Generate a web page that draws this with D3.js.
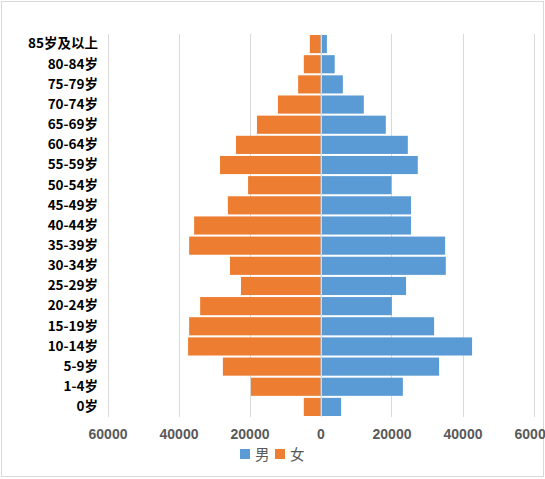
<!DOCTYPE html>
<html>
<head>
<meta charset="utf-8">
<script src="https://cdn.jsdelivr.net/npm/d3@7"></script>
<style>
  body { margin: 0; background: #fff; }
  svg { display: block; }
</style>
</head>
<body>
<svg id="chart" width="545" height="479"></svg>
<script>
// age groups, top to bottom
var ageGroups = ["85岁及以上", "80-84岁", "75-79岁", "70-74岁", "65-69岁", "60-64岁", "55-59岁",
  "50-54岁", "45-49岁", "40-44岁", "35-39岁", "30-34岁", "25-29岁", "20-24岁", "15-19岁",
  "10-14岁", "5-9岁", "1-4岁", "0岁"];
var maleValues = [1800, 4000, 6300, 12200, 18400, 24600, 27400, 20000, 25500, 25500,
  35100, 35300, 24100, 20100, 32000, 42700, 33400, 23200, 5800];
var femaleValues = [3000, 4700, 6300, 12000, 17900, 23800, 28300, 20400, 26100, 35600,
  37000, 25500, 22400, 33900, 37000, 37300, 27500, 19600, 4700];
var tickValues = [-60000, -40000, -20000, 0, 20000, 40000, 60000];
var legendItems = [{ name: "男", color: "#5B9BD5" }, { name: "女", color: "#ED7D31" }];

var svg = d3.select("#chart");

// chart border
svg.append("rect")
  .attr("x", 1.5).attr("y", 1.5)
  .attr("width", 542).attr("height", 475)
  .attr("fill", "none")
  .attr("stroke", "#d9d9d9");

var x = d3.scaleLinear().domain([-60000, 60000]).range([107.5, 533.5]);
var y = d3.scaleBand().domain(ageGroups).range([34, 417]).paddingInner(0.1).paddingOuter(0.05);

// gridlines
svg.append("g")
  .selectAll("line")
  .data(tickValues)
  .enter().append("line")
  .attr("x1", function (d) { return Math.round(x(d)) + 0.5; })
  .attr("x2", function (d) { return Math.round(x(d)) + 0.5; })
  .attr("y1", 34).attr("y2", 417)
  .attr("stroke", "#d9d9d9")
  .attr("stroke-width", 1);

// male bars
svg.append("g")
  .selectAll("rect")
  .data(maleValues)
  .enter().append("rect")
  .attr("x", x(0))
  .attr("y", function (d, i) { return y(ageGroups[i]); })
  .attr("width", function (d) { return x(d) - x(0); })
  .attr("height", y.bandwidth())
  .attr("fill", "#5B9BD5");

// female bars (drawn to the left)
svg.append("g")
  .selectAll("rect")
  .data(femaleValues)
  .enter().append("rect")
  .attr("x", function (d) { return x(-d); })
  .attr("y", function (d, i) { return y(ageGroups[i]); })
  .attr("width", function (d) { return x(0) - x(-d); })
  .attr("height", y.bandwidth())
  .attr("fill", "#ED7D31");

// zero axis line
svg.append("line")
  .attr("x1", Math.round(x(0)) + 0.5).attr("x2", Math.round(x(0)) + 0.5)
  .attr("y1", 34).attr("y2", 417)
  .attr("stroke", "#d9d9d9");

// x axis tick labels
var xAxis = d3.axisBottom(x)
  .tickValues(tickValues)
  .tickSize(0)
  .tickPadding(0)
  .tickFormat(function (d) { return Math.abs(d); });

var gx = svg.append("g").attr("transform", "translate(0,429)").call(xAxis);
gx.select(".domain").remove();
gx.selectAll("text")
  .attr("fill", "#595959")
  .style("font-family", "'Liberation Sans', Arial, sans-serif")
  .style("font-weight", "bold")
  .style("font-size", "14px");

// category labels
var gy = svg.append("g").attr("transform", "translate(98,0)")
  .call(d3.axisLeft(y).tickSize(0).tickPadding(0));
gy.select(".domain").remove();
gy.selectAll("text")
  .attr("fill", "#000")
  .style("font-family", "'Noto Sans CJK SC', sans-serif")
  .style("font-weight", "bold")
  .style("font-size", "13.5px");

// legend
var legend = svg.append("g").attr("transform", "translate(240,449)");
var lx = 0;
legendItems.forEach(function (item) {
  legend.append("rect")
    .attr("x", lx).attr("y", 0)
    .attr("width", 10).attr("height", 10)
    .attr("fill", item.color);
  legend.append("text")
    .attr("x", lx + 15).attr("y", 10.5)
    .attr("fill", "#595959")
    .style("font-family", "'Noto Sans CJK SC', sans-serif")
    .style("font-size", "14.5px")
    .text(item.name);
  lx += 35;
});
</script>
</body>
</html>
